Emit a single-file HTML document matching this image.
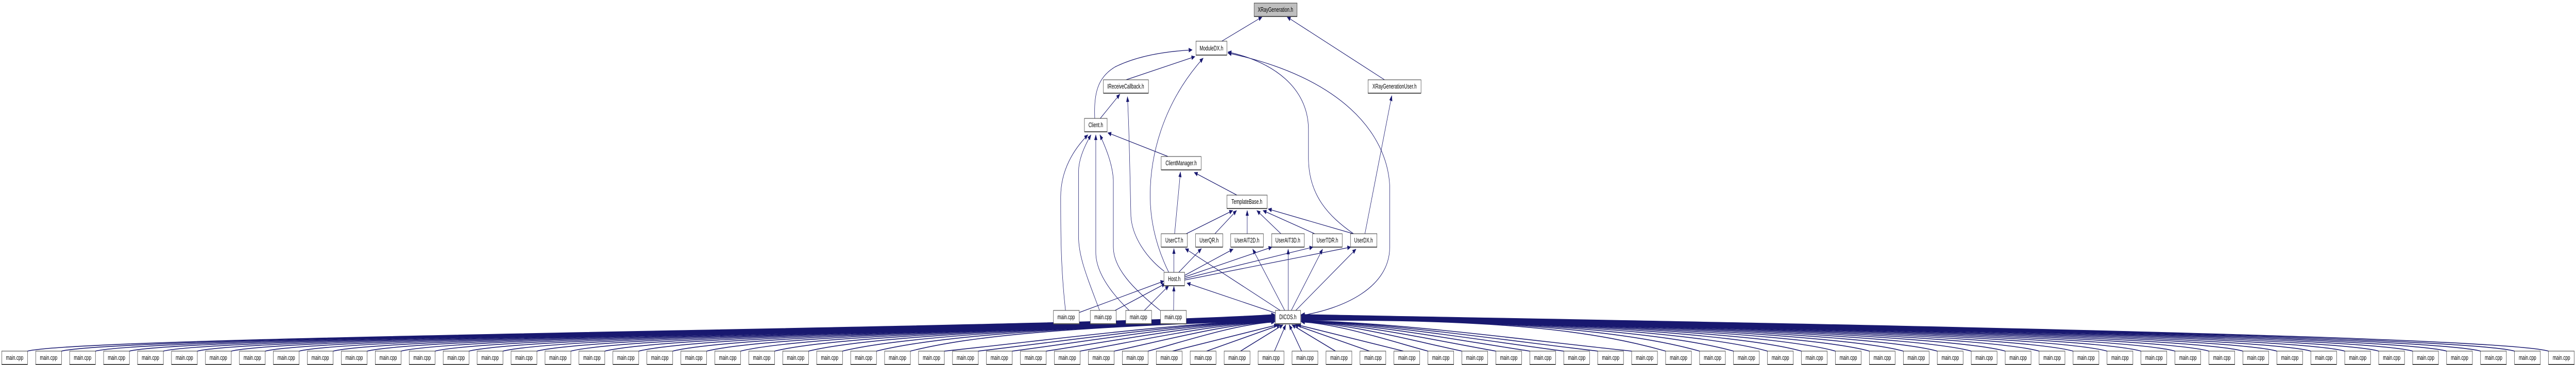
<!DOCTYPE html>
<html><head><meta charset="utf-8">
<style>
html,body{margin:0;padding:0;background:#fff;overflow:hidden;width:100%;height:100%;}
svg{display:block;width:100vw;height:100vh;}
text{font-family:"Liberation Sans",Arial,sans-serif;font-size:12.5px;fill:#000;text-anchor:middle;}
.e{fill:none;stroke:#191970;stroke-width:1.2;}
.f{fill:none;stroke:#191970;stroke-width:1.6;}
</style></head>
<body>
<svg id="s" viewBox="0 0 7485 709" preserveAspectRatio="none" xmlns="http://www.w3.org/2000/svg">
<defs>
<marker id="a" markerWidth="11" markerHeight="9" refX="10" refY="4.5" orient="auto" markerUnits="userSpaceOnUse">
<path d="M0,0 L11,4.5 L0,9 z" fill="#191970"/>
</marker>
</defs>
<g id="fan"></g>
<g id="edges">
<path class="e" marker-end="url(#a)" d="M3550,80 L3667,33"/>
<path class="e" marker-end="url(#a)" d="M4023,155 L3740,33"/>
<path class="e" marker-end="url(#a)" d="M3181,230 C3178,180 3190,150 3240,130 C3300,110 3380,100 3464,97"/>
<path class="e" marker-end="url(#a)" d="M3272,155 L3472,110"/>
<path class="e" marker-end="url(#a)" d="M3197,230 L3254,183"/>
<path class="e" marker-end="url(#a)" d="M3396,529 C3360,480 3342,430 3342,380 C3342,300 3380,200 3496,113"/>
<path class="e" marker-end="url(#a)" d="M3383,527 C3330,500 3290,460 3286,420 L3284,360 C3282,300 3280,240 3276,188"/>
<path class="e" marker-end="url(#a)" d="M3933,454 C3860,420 3804,380 3802,310 L3802,250 C3800,170 3700,120 3568,101"/>
<path class="e" marker-end="url(#a)" d="M3780,613 C3900,600 4038,560 4038,480 L4038,360 C4030,260 3900,150 3568,103"/>
<path class="e" marker-end="url(#a)" d="M3966,454 L4044,186"/>
<path class="e" marker-end="url(#a)" d="M3394,304 L3219,258"/>
<path class="e" marker-end="url(#a)" d="M3413,454 L3430,334"/>
<path class="e" marker-end="url(#a)" d="M3594,379 L3470,335"/>
<path class="e" marker-end="url(#a)" d="M3096,603 C3082,520 3082,450 3082,383 C3082,330 3120,290 3161,262"/>
<path class="e" marker-end="url(#a)" d="M3195,603 C3160,540 3134,500 3134,460 L3134,333 C3134,310 3150,285 3170,262"/>
<path class="e" marker-end="url(#a)" d="M3281,603 C3230,570 3184,530 3184,490 L3184,262"/>
<path class="e" marker-end="url(#a)" d="M3371,603 C3290,560 3235,520 3235,480 L3235,350 C3233,320 3215,290 3196,262"/>
<path class="e" marker-end="url(#a)" d="M3136,607 L3382,546"/>
<path class="e" marker-end="url(#a)" d="M3240,603 L3386,551"/>
<path class="e" marker-end="url(#a)" d="M3325,603 L3396,555"/>
<path class="e" marker-end="url(#a)" d="M3410,603 L3411,556"/>
<path class="e" marker-end="url(#a)" d="M3706,608 L3449,550"/>
<path class="e" marker-end="url(#a)" d="M3411,529 L3411,483"/>
<path class="e" marker-end="url(#a)" d="M3425,529 L3491,483"/>
<path class="e" marker-end="url(#a)" d="M3442,535 L3583,484"/>
<path class="e" marker-end="url(#a)" d="M3442,538 L3696,480"/>
<path class="e" marker-end="url(#a)" d="M3442,541 L3815,480"/>
<path class="e" marker-end="url(#a)" d="M3442,544 L3925,480"/>
<path class="e" marker-end="url(#a)" d="M3720,603 L3444,483"/>
<path class="e" marker-end="url(#a)" d="M3733,603 L3640,484"/>
<path class="e" marker-end="url(#a)" d="M3743,603 L3743,484"/>
<path class="e" marker-end="url(#a)" d="M3752,603 L3843,484"/>
<path class="e" marker-end="url(#a)" d="M3765,603 L3940,484"/>
<path class="e" marker-end="url(#a)" d="M3447,454 L3582,409"/>
<path class="e" marker-end="url(#a)" d="M3530,454 L3593,409"/>
<path class="e" marker-end="url(#a)" d="M3624,454 L3624,409"/>
<path class="e" marker-end="url(#a)" d="M3722,454 L3652,409"/>
<path class="e" marker-end="url(#a)" d="M3820,454 L3670,409"/>
<path class="e" marker-end="url(#a)" d="M3932,454 L3685,406"/>
</g>
<g id="nodes">
<rect x="3644" y="6" width="125" height="26" fill="#bfbfbf" stroke="#333"/><line x1="3644" y1="32" x2="3769" y2="32" stroke="#555" stroke-width="2"/><text x="3706" y="23">XRayGeneration.h</text>
<rect x="3475" y="80" width="90" height="27" fill="#fff" stroke="#333"/><line x1="3475" y1="107" x2="3565" y2="107" stroke="#555" stroke-width="2"/><text x="3520" y="98">ModuleDX.h</text>
<rect x="3206" y="155" width="131" height="26" fill="#fff" stroke="#333"/><line x1="3206" y1="181" x2="3337" y2="181" stroke="#555" stroke-width="2"/><text x="3271" y="172">IReceiveCallback.h</text>
<rect x="3975" y="155" width="154" height="26" fill="#fff" stroke="#333"/><line x1="3975" y1="181" x2="4129" y2="181" stroke="#555" stroke-width="2"/><text x="4052" y="172">XRayGenerationUser.h</text>
<rect x="3151" y="230" width="66" height="26" fill="#fff" stroke="#333"/><line x1="3151" y1="256" x2="3217" y2="256" stroke="#555" stroke-width="2"/><text x="3184" y="247">Client.h</text>
<rect x="3374" y="304" width="116" height="26" fill="#fff" stroke="#333"/><line x1="3374" y1="330" x2="3490" y2="330" stroke="#555" stroke-width="2"/><text x="3432" y="321">ClientManager.h</text>
<rect x="3565" y="379" width="117" height="26" fill="#fff" stroke="#333"/><line x1="3565" y1="405" x2="3682" y2="405" stroke="#555" stroke-width="2"/><text x="3623" y="396">TemplateBase.h</text>
<rect x="3374" y="454" width="76" height="26" fill="#fff" stroke="#333"/><line x1="3374" y1="480" x2="3450" y2="480" stroke="#555" stroke-width="2"/><text x="3412" y="471">UserCT.h</text>
<rect x="3474" y="454" width="79" height="26" fill="#fff" stroke="#333"/><line x1="3474" y1="480" x2="3553" y2="480" stroke="#555" stroke-width="2"/><text x="3513" y="471">UserQR.h</text>
<rect x="3576" y="454" width="95" height="26" fill="#fff" stroke="#333"/><line x1="3576" y1="480" x2="3671" y2="480" stroke="#555" stroke-width="2"/><text x="3623" y="471">UserAIT2D.h</text>
<rect x="3695" y="454" width="95" height="26" fill="#fff" stroke="#333"/><line x1="3695" y1="480" x2="3790" y2="480" stroke="#555" stroke-width="2"/><text x="3742" y="471">UserAIT3D.h</text>
<rect x="3814" y="454" width="86" height="26" fill="#fff" stroke="#333"/><line x1="3814" y1="480" x2="3900" y2="480" stroke="#555" stroke-width="2"/><text x="3857" y="471">UserTDR.h</text>
<rect x="3924" y="454" width="77" height="26" fill="#fff" stroke="#333"/><line x1="3924" y1="480" x2="4001" y2="480" stroke="#555" stroke-width="2"/><text x="3962" y="471">UserDX.h</text>
<rect x="3382" y="529" width="60" height="26" fill="#fff" stroke="#333"/><line x1="3382" y1="555" x2="3442" y2="555" stroke="#555" stroke-width="2"/><text x="3412" y="546">Host.h</text>
<rect x="3061" y="603" width="75" height="26" fill="#fff" stroke="#333"/><line x1="3061" y1="629" x2="3136" y2="629" stroke="#555" stroke-width="2"/><text x="3098" y="620">main.cpp</text>
<rect x="3168" y="603" width="75" height="26" fill="#fff" stroke="#333"/><line x1="3168" y1="629" x2="3243" y2="629" stroke="#555" stroke-width="2"/><text x="3205" y="620">main.cpp</text>
<rect x="3271" y="603" width="75" height="26" fill="#fff" stroke="#333"/><line x1="3271" y1="629" x2="3346" y2="629" stroke="#555" stroke-width="2"/><text x="3308" y="620">main.cpp</text>
<rect x="3372" y="603" width="75" height="26" fill="#fff" stroke="#333"/><line x1="3372" y1="629" x2="3447" y2="629" stroke="#555" stroke-width="2"/><text x="3409" y="620">main.cpp</text>
<rect x="3706" y="603" width="73" height="26" fill="#fff" stroke="#333"/><line x1="3706" y1="629" x2="3779" y2="629" stroke="#555" stroke-width="2"/><text x="3742" y="620">DICOS.h</text>
</g>
<g id="bottom">
<text x="42.5" y="699">main.cpp</text><text x="141.2" y="699">main.cpp</text><text x="239.8" y="699">main.cpp</text><text x="338.5" y="699">main.cpp</text><text x="437.2" y="699">main.cpp</text><text x="535.8" y="699">main.cpp</text><text x="634.5" y="699">main.cpp</text><text x="733.2" y="699">main.cpp</text><text x="831.9" y="699">main.cpp</text><text x="930.5" y="699">main.cpp</text>
<text x="1029.2" y="699">main.cpp</text><text x="1127.9" y="699">main.cpp</text><text x="1226.5" y="699">main.cpp</text><text x="1325.2" y="699">main.cpp</text><text x="1423.9" y="699">main.cpp</text><text x="1522.5" y="699">main.cpp</text><text x="1621.2" y="699">main.cpp</text><text x="1719.9" y="699">main.cpp</text><text x="1818.6" y="699">main.cpp</text><text x="1917.2" y="699">main.cpp</text>
<text x="2015.9" y="699">main.cpp</text><text x="2114.6" y="699">main.cpp</text><text x="2213.2" y="699">main.cpp</text><text x="2311.9" y="699">main.cpp</text><text x="2410.6" y="699">main.cpp</text><text x="2509.2" y="699">main.cpp</text><text x="2607.9" y="699">main.cpp</text><text x="2706.6" y="699">main.cpp</text><text x="2805.3" y="699">main.cpp</text><text x="2903.9" y="699">main.cpp</text>
<text x="3002.6" y="699">main.cpp</text><text x="3101.3" y="699">main.cpp</text><text x="3199.9" y="699">main.cpp</text><text x="3298.6" y="699">main.cpp</text><text x="3397.3" y="699">main.cpp</text><text x="3495.9" y="699">main.cpp</text><text x="3594.6" y="699">main.cpp</text><text x="3693.3" y="699">main.cpp</text><text x="3792.0" y="699">main.cpp</text><text x="3890.6" y="699">main.cpp</text>
<text x="3989.3" y="699">main.cpp</text><text x="4088.0" y="699">main.cpp</text><text x="4186.6" y="699">main.cpp</text><text x="4285.3" y="699">main.cpp</text><text x="4384.0" y="699">main.cpp</text><text x="4482.6" y="699">main.cpp</text><text x="4581.3" y="699">main.cpp</text><text x="4680.0" y="699">main.cpp</text><text x="4778.7" y="699">main.cpp</text><text x="4877.3" y="699">main.cpp</text>
<text x="4976.0" y="699">main.cpp</text><text x="5074.7" y="699">main.cpp</text><text x="5173.3" y="699">main.cpp</text><text x="5272.0" y="699">main.cpp</text><text x="5370.7" y="699">main.cpp</text><text x="5469.3" y="699">main.cpp</text><text x="5568.0" y="699">main.cpp</text><text x="5666.7" y="699">main.cpp</text><text x="5765.4" y="699">main.cpp</text><text x="5864.0" y="699">main.cpp</text>
<text x="5962.7" y="699">main.cpp</text><text x="6061.4" y="699">main.cpp</text><text x="6160.0" y="699">main.cpp</text><text x="6258.7" y="699">main.cpp</text><text x="6357.4" y="699">main.cpp</text><text x="6456.0" y="699">main.cpp</text><text x="6554.7" y="699">main.cpp</text><text x="6653.4" y="699">main.cpp</text><text x="6752.1" y="699">main.cpp</text><text x="6850.7" y="699">main.cpp</text>
<text x="6949.4" y="699">main.cpp</text><text x="7048.1" y="699">main.cpp</text><text x="7146.7" y="699">main.cpp</text><text x="7245.4" y="699">main.cpp</text><text x="7344.1" y="699">main.cpp</text><text x="7442.7" y="699">main.cpp</text>
</g>
</svg>
<script>
(function(){
var NS="http://www.w3.org/2000/svg";
var fan=document.getElementById("fan"), bot=document.getElementById("bottom");
var html="", boxes="";
for(var i=0;i<76;i++){
  var x=5+i*98.667, cx=x+37.5, d="", sx, ex, ey, dist;
  boxes+='<rect x="'+x.toFixed(1)+'" y="682" width="75" height="26" fill="#fff" stroke="#333"/><line x1="'+x.toFixed(1)+'" y1="708" x2="'+(x+75).toFixed(1)+'" y2="708" stroke="#555" stroke-width="2"/>';
  if(i<=37){
    ey=611+(i/37)*16; ex=3704;
    if(i>=34){ ex=3712+(i-34)*8; ey=629; sx=cx+10; d="M"+sx+",682 L"+ex+","+(ey+2); }
    else {
      sx=x+75; dist=ex-sx;
      if(dist>1000){ d="M"+sx+",682 C"+(sx+180)+",652 3100,"+(638-i*0.1)+" "+ex+","+ey; }
      else { d="M"+sx+",682 C"+(sx+dist*0.3)+",662 "+(ex-dist*0.3)+","+(ey+4)+" "+ex+","+ey; }
    }
  } else {
    ey=627-((i-38)/37)*16; ex=3781;
    if(i<=41){ ex=3770-(41-i)*8; ey=629; sx=cx-10; d="M"+sx+",682 L"+ex+","+(ey+2); }
    else {
      sx=x; dist=sx-ex;
      if(dist>1000){ d="M"+sx+",682 C"+(sx-180)+",648 4400,"+(618+(i-38)*0.05)+" "+ex+","+ey; }
      else { d="M"+sx+",682 C"+(sx-dist*0.3)+",662 "+(ex+dist*0.3)+","+(ey+4)+" "+ex+","+ey; }
    }
  }
  html+='<path class="f" marker-end="url(#a)" d="'+d+'"/>';
}
fan.innerHTML=html;
var g=document.createElementNS(NS,"g"); g.innerHTML=boxes;
bot.parentNode.insertBefore(g,bot);
})();
</script>
</body></html>
